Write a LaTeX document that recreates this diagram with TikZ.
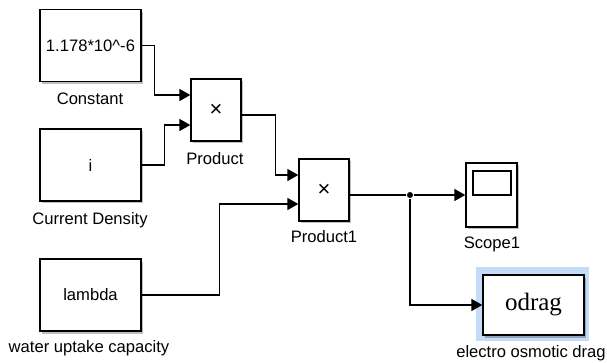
\documentclass[tikz,border=0pt]{standalone}
\usepackage{fontspec}
\setsansfont{Liberation Sans}
\newfontfamily\odragfont{Liberation Serif}
\usetikzlibrary{arrows.meta,shadows,calc,positioning}
\definecolor{hlblue}{RGB}{197,220,248}

\begin{document}
\begin{tikzpicture}[x=1pt,y=-1pt,line width=1.3pt,font=\sffamily\fontsize{16.6}{18}\selectfont]
		\tikzstyle{block}=[draw,fill=white,minimum width=101pt,minimum height=72pt,drop shadow={shadow xshift=2pt,shadow yshift=-2.5pt,fill=black,opacity=0.25}]
		\tikzstyle{prodblock}=[block,minimum width=50pt,minimum height=62pt,font=\sffamily\fontsize{22}{24}\selectfont]
		\tikzstyle{tag}=[anchor=base,inner sep=0pt]
		\tikzstyle{arr}=[-{Triangle[length=11pt,width=12pt]}]

		\useasboundingbox (0,0) rectangle (607,363);

		% sources
		\node[block](const) at (90.5,45.5){1.178*10\^{}-6};
		\node[tag](constlbl) at (90,105){Constant};
		\node[block](cur) at (90.5,165){i};
		\node[tag](curlbl) at (90,225){Current Density};
		\node[block](lambda) at (90.5,295){lambda};
		\node[tag](lambdalbl) at (89,352){water uptake capacity};

		% products
		\node[prodblock](prod) at (216,110){×};
		\node[tag](prodlbl) at (215,165){Product};
		\node[prodblock](prod1) at (324,190){×};
		\node[tag](prod1lbl) at (324,243){Product1};

		% sinks
		\node[block,minimum width=51pt,minimum height=64pt](scope) at (491.5,195){};
		\node[draw,minimum width=38pt,minimum height=24pt](screen) at (492,183){};
		\node[tag](scopelbl) at (492,248){Scope1};

		\node[fill=hlblue,minimum width=113pt,minimum height=74pt](hl) at (532.5,304){};
		\node[block,minimum width=101pt,minimum height=60pt,font=\odragfont\fontsize{25}{27}\selectfont](odrag) at (533.5,305){odrag};
		\node[tag](odraglbl) at (531,357){electro osmotic drag};

		\node[circle,fill,inner sep=0pt,minimum size=6pt](split) at (410,195){};

		\draw[arr] (const.east) -- ++(13,0) |- ([yshift=15pt]prod.west);
		\draw[arr] (cur.east) -- ++(23,0) |- ([yshift=-15pt]prod.west);
		\draw[arr] ([yshift=-5pt]prod.east) -- ++(34,0) |- ([yshift=15pt]prod1.west);
		\draw[arr] (lambda.east) -- ++(78,0) |- ([yshift=-14pt]prod1.west);
		\draw (prod1.east |- split) -- (split);
		\draw[arr] (split) -- (scope);
		\draw[arr] (split) |- (odrag);
	\end{tikzpicture}
\end{document}
